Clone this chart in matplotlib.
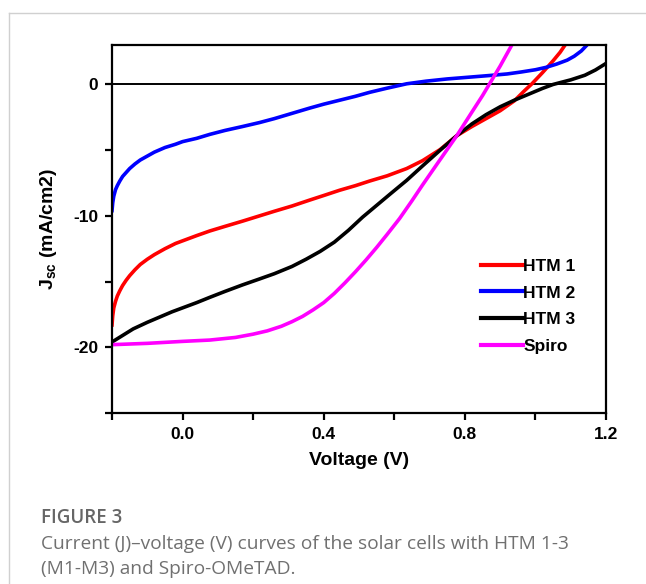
import matplotlib
matplotlib.use("Agg")
import matplotlib.pyplot as plt
from matplotlib.ticker import FuncFormatter, MultipleLocator
from matplotlib.lines import Line2D

plt.rcParams["font.family"] = ["Liberation Sans", "DejaVu Sans"]
plt.rcParams["axes.unicode_minus"] = False
plt.rcParams["mathtext.fontset"] = "custom"
plt.rcParams["mathtext.bf"] = "Liberation Sans:bold"
plt.rcParams["mathtext.rm"] = "Liberation Sans:bold"

# J-V curves (V in volts, J in mA/cm2)
v_htm1 = [-0.2, -0.198, -0.195, -0.19, -0.185, -0.178, -0.17, -0.16, -0.15, -0.135, -0.12,
          -0.1, -0.08, -0.05, -0.02, 0.0, 0.04, 0.077, 0.12, 0.17, 0.218, 0.26, 0.31, 0.36,
          0.4, 0.445, 0.49, 0.53, 0.58, 0.635, 0.68, 0.73, 0.777, 0.82, 0.86, 0.9, 0.94,
          0.97, 0.99, 1.02, 1.05, 1.07, 1.084]
j_htm1 = [-18.3, -17.6, -17.0, -16.5, -16.1, -15.7, -15.3, -14.9, -14.55, -14.1, -13.7,
          -13.3, -12.95, -12.5, -12.1, -11.9, -11.5, -11.15, -10.8, -10.4, -10.0, -9.65, -9.25, -8.8,
          -8.45, -8.05, -7.7, -7.35, -6.95, -6.4, -5.8, -4.95, -3.9, -3.2, -2.6, -2.0, -1.25,
          -0.45, 0.05, 0.9, 1.8, 2.45, 3.0]

v_htm2 = [-0.2, -0.198, -0.195, -0.19, -0.185, -0.178, -0.17, -0.16, -0.15, -0.135, -0.12,
          -0.1, -0.08, -0.05, -0.02, 0.0, 0.04, 0.077, 0.12, 0.17, 0.218, 0.26, 0.31, 0.36,
          0.4, 0.445, 0.49, 0.53, 0.58, 0.635, 0.69, 0.75, 0.81, 0.87, 0.92, 0.96, 1.0,
          1.03, 1.06, 1.09, 1.11, 1.13, 1.146]
j_htm2 = [-9.6, -9.0, -8.5, -8.0, -7.7, -7.35, -7.0, -6.7, -6.4, -6.05, -5.75,
          -5.45, -5.15, -4.8, -4.55, -4.35, -4.1, -3.8, -3.5, -3.2, -2.9, -2.6, -2.2, -1.8,
          -1.5, -1.2, -0.9, -0.6, -0.28, 0.05, 0.25, 0.42, 0.55, 0.68, 0.8, 0.95, 1.12,
          1.3, 1.55, 1.85, 2.15, 2.55, 3.0]

v_htm3 = [-0.2, -0.17, -0.14, -0.1, -0.065, -0.03, 0.0, 0.04, 0.077, 0.12, 0.17, 0.218,
          0.26, 0.31, 0.35, 0.39, 0.43, 0.47, 0.51, 0.55, 0.59, 0.635, 0.68, 0.73, 0.777,
          0.82, 0.86, 0.9, 0.94, 0.98, 1.02, 1.05, 1.1, 1.14, 1.17, 1.2]
j_htm3 = [-19.6, -19.1, -18.6, -18.1, -17.7, -17.3, -17.0, -16.6, -16.2, -15.75, -15.25, -14.8,
          -14.4, -13.85, -13.3, -12.7, -12.0, -11.1, -10.1, -9.2, -8.3, -7.3, -6.2, -5.0, -3.9,
          -3.0, -2.3, -1.7, -1.2, -0.75, -0.3, 0.0, 0.35, 0.7, 1.1, 1.6]

v_spiro = [-0.2, -0.1, 0.0, 0.077, 0.15, 0.2, 0.24, 0.28, 0.31, 0.34, 0.37, 0.4, 0.43,
           0.46, 0.49, 0.52, 0.55, 0.58, 0.615, 0.65, 0.68, 0.72, 0.777, 0.82, 0.85, 0.87,
           0.9, 0.933]
j_spiro = [-19.8, -19.7, -19.55, -19.45, -19.25, -19.0, -18.75, -18.4, -18.05, -17.65, -17.15,
           -16.6, -15.9, -15.1, -14.25, -13.35, -12.4, -11.4, -10.2, -8.85, -7.65, -6.1, -3.9,
           -2.1, -0.85, 0.05, 1.4, 3.0]

labels = ["HTM 1", "HTM 2", "HTM 3", "Spiro"]
colors = ["#ff0000", "#0000ff", "#000000", "#ff00ff"]

fig = plt.figure(figsize=(6.46, 5.84), dpi=100)
ax = fig.add_axes([0.1734, 0.2928, 0.7647, 0.6301])

series = [(v_htm1, j_htm1), (v_htm2, j_htm2), (v_htm3, j_htm3), (v_spiro, j_spiro)]
for (v, j), lab, c in zip(series, labels, colors):
    ax.plot(v, j, color=c, linewidth=2.6, label=lab, solid_joinstyle="round")

ax.axhline(0, color="black", linewidth=1.4, zorder=1)

ax.set_xlim(-0.2, 1.2)
ax.set_ylim(-25, 3)
ax.xaxis.set_major_locator(MultipleLocator(0.2))
ax.yaxis.set_major_locator(MultipleLocator(5))
ax.xaxis.set_major_formatter(FuncFormatter(
    lambda x, p: f"{x:.1f}" if abs(round(x / 0.4) * 0.4 - x) < 1e-6 else ""))
ax.yaxis.set_major_formatter(FuncFormatter(
    lambda y, p: f"{int(round(y))}" if int(round(y)) % 10 == 0 else ""))

for s in ax.spines.values():
    s.set_linewidth(1.6)
ax.tick_params(direction="out", length=5, width=1.6, labelsize=12.5, pad=5)
for lbl in ax.get_xticklabels() + ax.get_yticklabels():
    lbl.set_fontweight("bold")

ax.set_xlabel("Voltage (V)", fontsize=14, fontweight="bold", labelpad=7)
ax.set_ylabel(r"J$_{\mathbf{sc}}$ (mA/cm2)", fontsize=14, fontweight="bold", labelpad=10)

handles = [Line2D([], [], color=c, linewidth=3) for c in colors]
ax.legend(handles, labels, loc="center left", bbox_to_anchor=(0.715, 0.29), frameon=False,
          prop={"weight": "bold", "size": 12.5}, handlelength=2.4, handletextpad=0.05,
          labelspacing=0.66)

# card frame and caption
fig.add_artist(Line2D([9 / 646, 1.0], [1 - 13 / 584, 1 - 13 / 584], color="#d0d0d0", linewidth=1))
fig.add_artist(Line2D([9 / 646, 9 / 646], [0.0, 1 - 13 / 584], color="#d0d0d0", linewidth=1))
fig.text(41 / 646, 1 - 523 / 584, "FIGURE 3", fontsize=13.5, color="#666666",
         family=["Open Sans", "DejaVu Sans"], fontweight="semibold")
fig.text(41 / 646, 1 - 549 / 584, "Current (J)\u2013voltage (V) curves of the solar cells with HTM 1-3",
         fontsize=13.8, color="#707070", family=["Open Sans", "DejaVu Sans"])
fig.text(41 / 646, 1 - 574 / 584, "(M1-M3) and Spiro-OMeTAD.",
         fontsize=13.8, color="#707070", family=["Open Sans", "DejaVu Sans"])

fig.savefig("out.png", dpi=100)
